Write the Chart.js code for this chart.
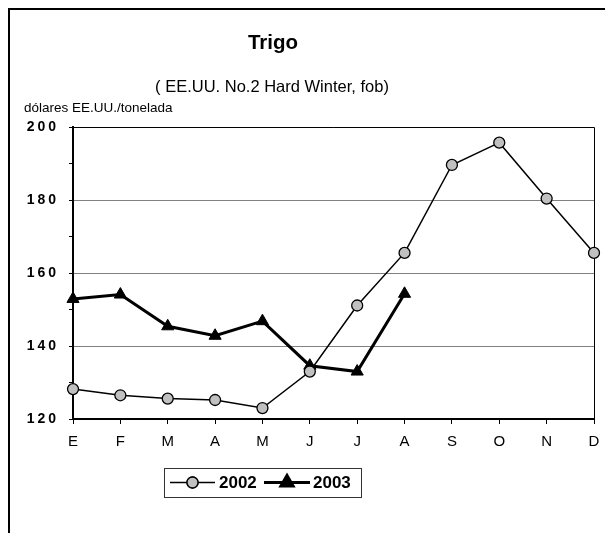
<!DOCTYPE html>
<html>
<head>
<meta charset="utf-8">
<script src="https://cdn.jsdelivr.net/npm/chart.js@4/dist/chart.umd.min.js"></script>
<style>
  html, body { margin: 0; padding: 0; background: #fff; }
  #wrap { width: 605px; height: 533px; }
</style>
</head>
<body>
<div id="wrap"><canvas id="myChart" width="605" height="533"></canvas></div>
<script>
// months (Spanish initials) and US wheat prices, USD per tonne
const months = ['E', 'F', 'M', 'A', 'M', 'J', 'J', 'A', 'S', 'O', 'N', 'D'];
const precios2002 = [128.2, 126.5, 125.6, 125.2, 123.0, 133.0, 151.1, 165.5, 189.6, 195.7, 180.4, 165.5];
const precios2003 = [152.9, 154.1, 145.4, 142.8, 146.8, 134.6, 133.0, 154.3, null, null, null, null];
const yMin = 120;
const yMax = 200;

const FONT = "'Liberation Sans', Arial, sans-serif";

// outer frame, top/right plot border, unit label
const marco = {
    id: 'marco',
    beforeDraw(chart) {
        const c = chart.ctx;
        c.save();
        c.strokeStyle = '#000';
        c.lineWidth = 2;
        c.beginPath();
        c.moveTo(9, 533);
        c.lineTo(9, 9);
        c.lineTo(605, 9);
        c.stroke();
        c.fillStyle = '#000';
        c.font = '13.5px ' + FONT;
        c.textBaseline = 'middle';
        c.fillText('dólares EE.UU./tonelada', 24, 108);
        c.restore();
        // spaced digits on the axis labels
        c.letterSpacing = '3px';
    },
    beforeDatasetsDraw(chart) {
        const a = chart.chartArea;
        const c = chart.ctx;
        c.letterSpacing = '0px';
        c.save();
        c.strokeStyle = '#000';
        c.lineWidth = 1;
        c.beginPath();
        c.moveTo(a.left, a.top + 0.5);
        c.lineTo(a.right + 0.5, a.top + 0.5);
        c.lineTo(a.right + 0.5, a.bottom);
        c.stroke();
        c.restore();
    }
};

// legend box with line + marker samples
const leyenda = {
    id: 'leyenda',
    afterDraw(chart) {
        const c = chart.ctx;
        const bx = 164, by = 468, bw = 197, bh = 29;
        const cy = by + bh / 2;
        c.save();
        c.fillStyle = '#fff';
        c.fillRect(bx, by, bw, bh);
        c.strokeStyle = '#333';
        c.lineWidth = 1;
        c.strokeRect(bx + 0.5, by + 0.5, bw, bh);
        const entries = [
            { x0: 170, x1: 215, tx: 219 },
            { x0: 264, x1: 310, tx: 313 }
        ];
        chart.data.datasets.forEach((ds, i) => {
            const e = entries[i];
            c.strokeStyle = ds.borderColor;
            c.lineWidth = ds.borderWidth;
            c.beginPath();
            c.moveTo(e.x0, cy);
            c.lineTo(e.x1, cy);
            c.stroke();
            Chart.helpers.drawPoint(c, {
                pointStyle: ds.pointStyle,
                radius: ds.pointRadius,
                borderWidth: ds.pointBorderWidth,
                rotation: 0
            }, (e.x0 + e.x1) / 2, cy);
            c.fillStyle = ds.pointBackgroundColor;
            c.strokeStyle = ds.pointBorderColor;
            c.lineWidth = ds.pointBorderWidth;
            c.fill();
            c.stroke();
            c.fillStyle = '#000';
            c.font = 'bold 17px ' + FONT;
            c.textBaseline = 'middle';
            c.fillText(ds.label, e.tx, cy + 1);
        });
        c.restore();
    }
};

const titulos = {
    id: 'titulos',
    afterDraw(chart) {
        const c = chart.ctx;
        c.save();
        c.fillStyle = '#000';
        c.textAlign = 'center';
        c.textBaseline = 'middle';
        c.font = 'bold 20.5px ' + FONT;
        c.fillText('Trigo', 273, 43);
        c.font = '16.5px ' + FONT;
        c.fillText('( EE.UU. No.2 Hard Winter, fob)', 272, 87);
        c.restore();
    }
};

const ctx = document.getElementById('myChart').getContext('2d');

var ChartTrigo = new Chart(ctx, {
    type: 'line',
    data: {
        labels: months,
        datasets: [{
            label: '2002',
            data: precios2002,
            borderColor: '#000',
            borderWidth: 1.5,
            pointStyle: 'circle',
            pointRadius: 5.5,
            pointBackgroundColor: '#c0c0c0',
            pointBorderColor: '#000',
            pointBorderWidth: 1.3,
            tension: 0
        }, {
            label: '2003',
            data: precios2003,
            borderColor: '#000',
            borderWidth: 3,
            pointStyle: 'triangle',
            pointRadius: 7,
            pointBackgroundColor: '#000',
            pointBorderColor: '#000',
            pointBorderWidth: 1,
            tension: 0
        }]
    },
    options: {
        responsive: false,
        animation: false,
        layout: { padding: { left: 14, right: 11, top: 127, bottom: 73 } },
        plugins: {
            legend: { display: false },
            tooltip: { enabled: false },
            title: { display: false }
        },
        scales: {
            x: {
                offset: false,
                border: { color: '#000', width: 2 },
                afterFit: (scale) => { scale.paddingLeft = 0; scale.paddingRight = 0; },
                grid: {
                    display: true,
                    drawOnChartArea: false,
                    drawTicks: true,
                    tickLength: 5,
                    color: '#000'
                },
                ticks: {
                    color: '#000',
                    padding: 9,
                    labelOffset: 1.5,
                    maxRotation: 0,
                    autoSkip: false,
                    font: { family: FONT, size: 15 }
                }
            },
            y: {
                min: yMin,
                max: yMax,
                border: { color: '#000', width: 2 },
                afterFit: (scale) => { scale.width = 59; },
                grid: {
                    color: (c) => (c.tick.value % 20 === 0 && c.tick.value !== yMin) ? '#808080' : 'rgba(0,0,0,0)',
                    tickColor: '#000',
                    tickLength: 4,
                    lineWidth: 1
                },
                ticks: {
                    stepSize: 10,
                    color: '#000',
                    padding: 10,
                    font: { family: FONT, size: 14, weight: 'bold' },
                    callback: (v) => (v % 20 === 0 ? String(v) : '')
                }
            }
        }
    },
    plugins: [marco, leyenda, titulos]
});
</script>
</body>
</html>
